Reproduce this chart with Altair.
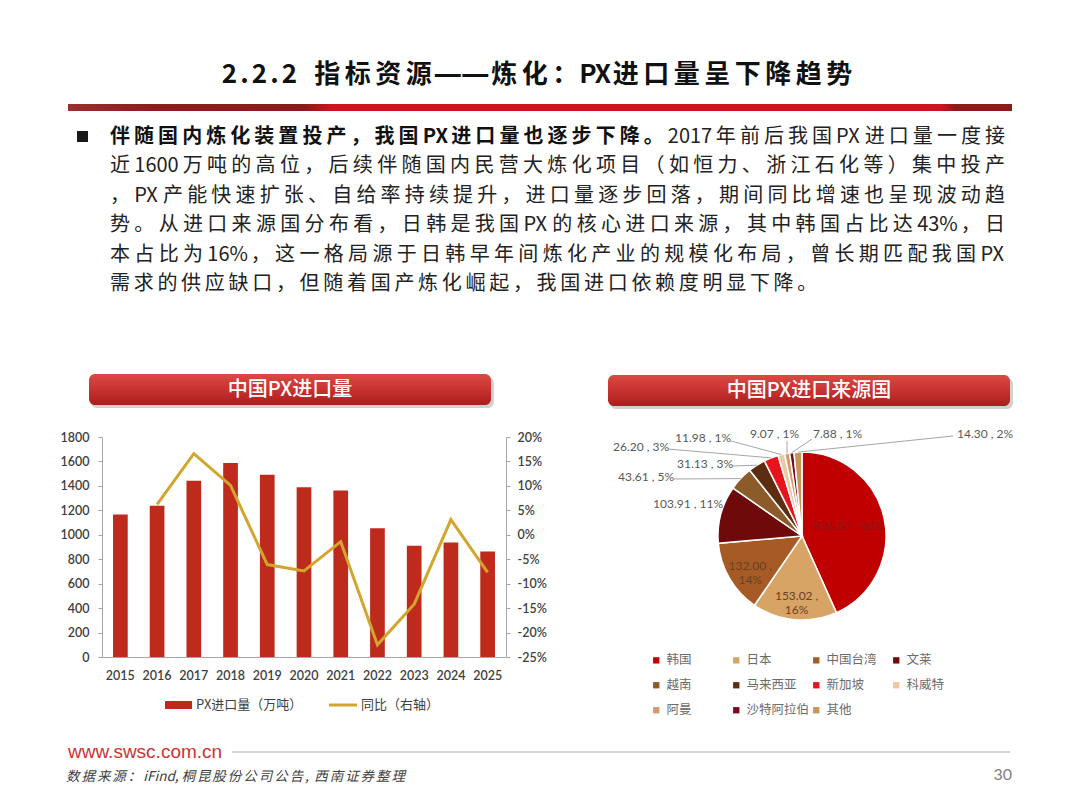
import math
import altair as alt
import pandas as pd

# ---------------- chart values ----------------
years = ["2015", "2016", "2017", "2018", "2019", "2020", "2021", "2022", "2023", "2024", "2025"]
px_imports = [1165, 1237, 1442, 1587, 1491, 1388, 1363, 1054, 910, 937, 863]      # 万吨
yoy_pct = [None, 6.2, 16.6, 10.1, -6.1, -7.4, -1.4, -22.5, -14.2, 3.1, -7.7]       # %
left_ticks = [0, 200, 400, 600, 800, 1000, 1200, 1400, 1600, 1800]
right_ticks = [-25, -20, -15, -10, -5, 0, 5, 10, 15, 20]

countries = ["韩国", "日本", "中国台湾", "文莱", "越南", "马来西亚", "新加坡", "科威特", "阿曼", "沙特阿拉伯", "其他"]
country_values = [406.87, 153.02, 132.00, 103.91, 43.61, 31.13, 26.20, 11.98, 9.07, 7.88, 14.30]
country_colors = ["#C00000", "#D8A465", "#A65B27", "#6E0A0A", "#8D5A2A", "#5C2D10",
                  "#E8141C", "#EDC9A3", "#D39B6A", "#7A0A18", "#C8945C"]

title_text = "2.2.2 指标资源——炼化：PX进口量呈下降趋势"
bold_lead = "伴随国内炼化装置投产，我国PX进口量也逐步下降。"
para_lines = [
    "伴随国内炼化装置投产，我国PX进口量也逐步下降。2017年前后我国PX进口量一度接",
    "近1600万吨的高位，后续伴随国内民营大炼化项目（如恒力、浙江石化等）集中投产",
    "，PX产能快速扩张、自给率持续提升，进口量逐步回落，期间同比增速也呈现波动趋",
    "势。从进口来源国分布看，日韩是我国PX的核心进口来源，其中韩国占比达43%，日",
    "本占比为16%，这一格局源于日韩早年间炼化产业的规模化布局，曾长期匹配我国PX",
    "需求的供应缺口，但随着国产炼化崛起，我国进口依赖度明显下降。",
]
banner_left = "中国PX进口量"
banner_right = "中国PX进口来源国"
legend_bar = "PX进口量（万吨）"
legend_line = "同比（右轴）"
site_text = "www.swsc.com.cn"
source_text = "数据来源：iFind, 桐昆股份公司公告, 西南证券整理"
page_no = "30"

# ---------------- styles / layout ----------------
CJK = "Noto Sans CJK SC"
NUM = "Lato"
BAR = "#BE2A1C"
GOLD = "#D2A62C"
AXIS_C = "#A6A6A6"
OX, OY, W, H = 102, 437, 404, 220          # plot-area origin (page px) and size
PCX, PCY, PR = 802, 536, 84                 # pie centre / radius (page px)


def pix_df(rows):
    return pd.DataFrame({"x": [r[0] - OX for r in rows],
                         "y": [r[1] - OY for r in rows],
                         "t": [r[2] for r in rows]})


def text_layer(rows, **mk):
    return alt.Chart(pix_df(rows)).mark_text(baseline="middle", **mk).encode(
        x=alt.X("x:Q", scale=None, axis=None),
        y=alt.Y("y:Q", scale=None, axis=None),
        text=alt.Text("t:N"),
    )


def box_layer(boxes, kind="rect", **mk):
    df = pd.DataFrame({"x": [b[0] - OX for b in boxes], "y": [b[1] - OY for b in boxes],
                       "x2": [b[2] - OX for b in boxes], "y2": [b[3] - OY for b in boxes]})
    base = alt.Chart(df)
    m = base.mark_rect(**mk) if kind == "rect" else base.mark_rule(**mk)
    return m.encode(x=alt.X("x:Q", scale=None, axis=None), x2="x2:Q",
                    y=alt.Y("y:Q", scale=None, axis=None), y2="y2:Q")


LATIN_W = {"P": 0.63, "X": 0.6, "%": 0.86, ".": 0.28, "i": 0.25, "F": 0.55, ",": 0.28, " ": 0.25}


def tokens_of(s):
    toks, buf = [], ""
    for ch in s:
        if ord(ch) < 128:
            buf += ch
        else:
            if buf:
                toks.append(buf)
                buf = ""
            toks.append(ch)
    if buf:
        toks.append(buf)
    return toks


def tok_w(tok, fs):
    if ord(tok[0]) >= 128:
        return fs
    return sum(LATIN_W.get(c, 0.55) for c in tok) * fs


def justify(s, x0, x1, y, fs, gap=None):
    toks = tokens_of(s)
    widths = [tok_w(t, fs) for t in toks]
    if gap is None:
        gap = (x1 - x0 - sum(widths)) / (len(toks) - 1)
    rows, x = [], x0
    for t, w in zip(toks, widths):
        if t.strip():
            rows.append((x, y, t.strip()))
        x += w + gap
    return rows


layers = []

# ---------------- bar + line chart ----------------
bar_df = pd.DataFrame({"year": years, "imports": px_imports, "yoy": yoy_pct})
x_enc = alt.X("year:O", sort=years,
              scale=alt.Scale(paddingInner=0.6, paddingOuter=0.3),
              axis=alt.Axis(title=None, labelAngle=0, ticks=False, domainColor=AXIS_C,
                            labelPadding=12, labelFontSize=12.5, labelColor="#404040",
                            labelFont=NUM, labelFontWeight=600))
bars = alt.Chart(bar_df).mark_bar(color=BAR).encode(
    x=x_enc,
    y=alt.Y("imports:Q", scale=alt.Scale(domain=[0, 1800], nice=False),
            axis=alt.Axis(title=None, values=left_ticks, format="d", grid=False, domainColor=AXIS_C,
                          tickColor=AXIS_C, tickSize=4, labelPadding=9, labelFontSize=12.5,
                          labelColor="#404040", labelFont=NUM, labelFontWeight=600)),
)
line = alt.Chart(bar_df).mark_line(color=GOLD, strokeWidth=3).encode(
    x=x_enc,
    y=alt.Y("yoy:Q", scale=alt.Scale(domain=[-25, 20], nice=False),
            axis=alt.Axis(title=None, orient="right", values=right_ticks, grid=False,
                          domainColor=AXIS_C, tickColor=AXIS_C, tickSize=4, labelPadding=7,
                          labelFontSize=12.5, labelColor="#404040", labelFont=NUM,
                          labelFontWeight=600, labelExpr="datum.value + '%'")),
)
layers += [bars, line]

# bar/line legend
layers.append(box_layer([(165, 701, 192, 709)], color=BAR))
layers.append(box_layer([(329, 705, 357, 705)], kind="rule", color=GOLD, strokeWidth=3))
layers.append(text_layer([(196, 705, legend_bar), (361, 705, legend_line)],
                         align="left", font=CJK, fontSize=13, color="#404040"))

# ---------------- pie chart ----------------
total = sum(country_values)
pcts = [v / total * 100 for v in country_values]
pie_df = pd.DataFrame({"country": countries, "value": country_values,
                       "idx": list(range(len(countries)))})
pie_df["in_a"] = [f"{country_values[0]:.2f} , {round(pcts[0])}%"] + [""] * (len(countries) - 1)
pie_df["in_b"] = ["", f"{country_values[1]:.2f} ,\n{round(pcts[1])}%",
                  f"{country_values[2]:.2f} ,\n{round(pcts[2])}%"] + [""] * (len(countries) - 3)

theta_enc = alt.Theta("value:Q", stack=True)
order_enc = alt.Order("idx:Q")
arcs = alt.Chart(pie_df).mark_arc(outerRadius=PR, stroke="white", strokeWidth=1.5).encode(
    theta=theta_enc, order=order_enc,
    color=alt.Color("country:N", sort=countries,
                    scale=alt.Scale(domain=countries, range=country_colors),
                    legend=alt.Legend(title=None, orient="none", legendX=650 - OX, legendY=654 - OY,
                                      direction="horizontal", columns=4, gridAlign="all",
                                      symbolType="square", symbolSize=40, symbolStrokeWidth=0,
                                      labelFont=CJK, labelFontSize=12.5, labelColor="#6B6B6B",
                                      rowPadding=12, columnPadding=0, labelOffset=4, padding=0)),
    x=alt.value(PCX - OX), y=alt.value(PCY - OY),
)
inner_a = alt.Chart(pie_df).mark_text(radius=47, fontSize=12, font=NUM, color="#8A1A1A").encode(
    theta=theta_enc, order=order_enc, text="in_a:N",
    x=alt.value(PCX - OX), y=alt.value(PCY - OY))
inner_b = alt.Chart(pie_df).mark_text(radius=60, fontSize=12, font=NUM, color="#6B4020",
                                      lineBreak="\n", lineHeight=14).encode(
    theta=theta_enc, order=order_enc, text="in_b:N",
    x=alt.value(PCX - OX), y=alt.value(PCY - OY))
layers += [arcs, inner_a, inner_b]

# outer labels with leader lines (label anchor positions, page px)
outer_pos = {
    "文莱": (653, 504, None),
    "越南": (618, 477, (674, 479)),
    "马来西亚": (677, 464, (732, 466)),
    "新加坡": (613, 447, (668, 449)),
    "科威特": (675, 438, (731, 441)),
    "阿曼": (750, 434, (787, 441)),
    "沙特阿拉伯": (813, 434, (812, 439)),
    "其他": (957, 434, (953, 436)),
}
cum = 0.0
label_rows, leader_rows = [], []
for c, v, p in zip(countries, country_values, pcts):
    mid = (cum + v / 2) / total * 2 * math.pi
    cum += v
    if c not in outer_pos:
        continue
    lx, ly, anchor = outer_pos[c]
    label_rows.append((lx, ly, f"{v:.2f} , {round(p)}%"))
    if anchor is not None:
        ex = PCX + PR * math.sin(mid)
        ey = PCY - PR * math.cos(mid)
        leader_rows.append((anchor[0], anchor[1], ex, ey))
layers.append(box_layer(leader_rows, kind="rule", color="#A6A6A6", strokeWidth=1))
layers.append(text_layer(label_rows, align="left", font=NUM, fontSize=12, color="#595959"))

# ---------------- banners ----------------
banner_grad = alt.LinearGradient(
    gradient="linear", x1=0, x2=0, y1=0, y2=1,
    stops=[alt.GradientStop(color="#DA4A44", offset=0),
           alt.GradientStop(color="#C83230", offset=0.5),
           alt.GradientStop(color="#A91E1C", offset=1)])
layers.append(box_layer([(91, 377, 494, 408), (610, 378, 1013, 409)],
                        color="#9A9A9A", opacity=0.45, cornerRadius=6))
layers.append(box_layer([(89, 374, 491, 405), (608, 375, 1010, 406)],
                        color=banner_grad, cornerRadius=6))
layers.append(text_layer([(290, 390, banner_left), (809, 391, banner_right)],
                         align="center", font=CJK, fontSize=20, color="white", fontWeight=500))

# ---------------- title and red rule ----------------
title_rows = []
tx = 222
for ch in title_text:
    if ch == "—":
        adv = 27.5
    else:
        adv = 15 if ord(ch) < 128 else 30.5
    if ch.strip():
        title_rows.append((tx + adv / 2, 75, ch))
    tx += adv
title_main = [r for r in title_rows if r[2] != "—"]
title_dash = [r for r in title_rows if r[2] == "—"]
layers.append(text_layer(title_main, align="center", font=CJK, fontSize=26,
                         fontWeight="bold", color="#111111"))
layers.append(text_layer(title_dash, align="center", font=CJK, fontSize=32,
                         fontWeight="bold", color="#111111"))

rule_grad = alt.LinearGradient(
    gradient="linear", x1=0, x2=1, y1=0, y2=0,
    stops=[alt.GradientStop(color="#9A3030", offset=0),
           alt.GradientStop(color="#8E1C1C", offset=0.09),
           alt.GradientStop(color="#8B1A1A", offset=0.25),
           alt.GradientStop(color="#D2121E", offset=0.28),
           alt.GradientStop(color="#D2121E", offset=0.925),
           alt.GradientStop(color="#8E1A1A", offset=0.94),
           alt.GradientStop(color="#8E1A1A", offset=1)])
layers.append(box_layer([(68, 104, 1012, 111)], color=rule_grad))

# ---------------- paragraph ----------------
FS = 20
X0, XR = 110, 1005
line_y = [137, 166, 196, 225, 255, 284]
norm_rows, bold_rows = [], []
for li, s in enumerate(para_lines):
    rows = justify(s, X0, XR, line_y[li], FS, gap=None if li < len(para_lines) - 1 else 3.7)
    nchar = 0
    for r in rows:
        if li == 0 and nchar < len(bold_lead):
            bold_rows.append(r)
        else:
            norm_rows.append(r)
        nchar += len(r[2])
layers.append(box_layer([(77, 131, 88, 142)], color="#1A1A1A"))
layers.append(text_layer(bold_rows, align="left", font=CJK, fontSize=FS,
                         fontWeight="bold", color="#111111"))
layers.append(text_layer(norm_rows, align="left", font=CJK, fontSize=FS, color="#222222"))

# ---------------- footer ----------------
layers.append(box_layer([(232, 752, 1010, 752)], kind="rule", color="#C8C8C8", strokeWidth=1.5))
layers.append(text_layer([(68, 752, site_text)], align="left", font="Liberation Sans",
                         fontSize=19, color="#CC3333"))
layers.append(text_layer(justify(source_text, 66, 405, 777, 13.5), align="left", font=CJK,
                         fontSize=13.5, fontStyle="italic", color="#404040"))
layers.append(text_layer([(1012, 775, page_no)], align="right", font=NUM, fontSize=16,
                         color="#808080"))

chart = alt.layer(*layers).resolve_scale(y="independent").properties(
    width=W, height=H,
    padding={"left": OX - 8, "top": OY - 8, "right": 1072 - (OX + W), "bottom": 802 - (OY + H)},
    autosize=alt.AutoSizeParams(type="none"),
    background="white",
).configure_view(strokeWidth=0)

chart.save("out.html", embed_options={"renderer": "svg", "actions": False})
